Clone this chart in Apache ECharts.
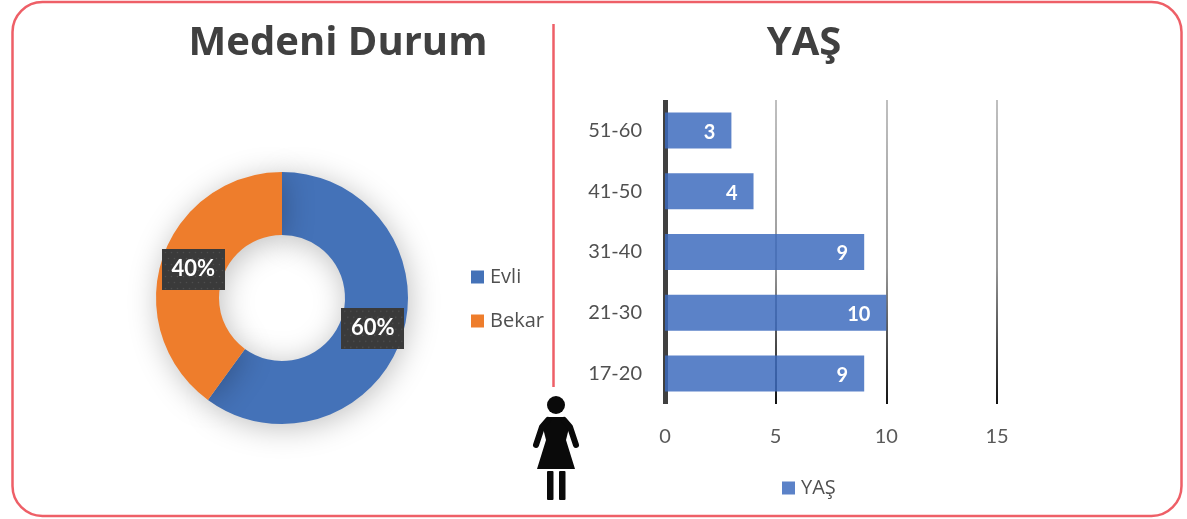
<!DOCTYPE html>
<html>
<head>
<meta charset="utf-8">
<style>html,body{margin:0;padding:0;background:#fff}#c{width:1187px;height:519px}</style>
<script src="https://cdn.jsdelivr.net/npm/echarts@6/dist/echarts.min.js"></script>
</head>
<body>
<div id="c"></div>
<script>
const pieNames = ['Evli', 'Bekar'];
const pieValues = [60, 40];
const pieColors = ['#4472b8', '#ee7d2c'];
const ageGroups = ['17-20', '21-30', '31-40', '41-50', '51-60'];
const ageCounts = [9, 10, 9, 4, 3];

const chart = echarts.init(document.getElementById('c'), null, {renderer: 'canvas'});

function texture() {
  const cv = document.createElement('canvas');
  cv.width = 63; cv.height = 41;
  const g = cv.getContext('2d');
  g.fillStyle = '#3a3a3a';
  g.fillRect(0, 0, 63, 41);
  g.fillStyle = '#555';
  for (let y = 3, r = 0; y < 41; y += 6, r++) {
    for (let x = r % 2 ? 6 : 3; x < 63; x += 6) g.fillRect(x, y, 1.2, 1.2);
  }
  return cv;
}
const tex = texture();
const labelFont = 'Lato, "Open Sans", sans-serif';
const legendFont = '"Open Sans", sans-serif';
const gridGrad = new echarts.graphic.LinearGradient(0, 0, 0, 1, [
  {offset: 0, color: '#c0c0c0'},
  {offset: 0.55, color: '#999'},
  {offset: 0.8, color: '#4a4a4a'},
  {offset: 1, color: '#111'}
]);
const labelShift = [[-2, 0], [4, 1.5]];

chart.setOption({
  animation: false,
  backgroundColor: '#fff',
  title: [
    {text: 'Medeni Durum', left: 338, top: 44, padding: 0, textAlign: 'center', textVerticalAlign: 'middle',
      textStyle: {fontFamily: '"Open Sans", sans-serif', fontSize: 40, fontWeight: 700, color: '#404040'}},
    {text: 'YAŞ', left: 804, top: 44, padding: 0, textAlign: 'center', textVerticalAlign: 'middle',
      textStyle: {fontFamily: '"Open Sans", sans-serif', fontSize: 40, fontWeight: 700, color: '#404040'}}
  ],
  legend: [
    {data: pieNames, orient: 'vertical', left: 471, top: 267, padding: 0, itemWidth: 13, itemHeight: 13, itemGap: 24,
      icon: 'rect', textStyle: {fontFamily: legendFont, fontSize: 20, color: '#505050', padding: [0, 0, 0, 1]}},
    {data: ['YAŞ'], left: 782, top: 478, padding: 0, itemWidth: 13, itemHeight: 13, icon: 'rect',
      textStyle: {fontFamily: legendFont, fontSize: 20, color: '#505050', padding: [0, 0, 0, 1]}}
  ],
  grid: {left: 665, top: 100, width: 332, height: 304, containLabel: false},
  xAxis: {
    type: 'value', min: 0, max: 15, interval: 5,
    axisLine: {show: false}, axisTick: {show: false},
    axisLabel: {margin: 23, fontFamily: labelFont, fontSize: 20, color: '#595959'},
    splitLine: {show: true, lineStyle: {color: gridGrad, width: 2}}
  },
  yAxis: {
    type: 'category', data: ageGroups,
    axisTick: {show: false},
    axisLine: {show: true, lineStyle: {color: '#404040', width: 5, cap: 'butt'}},
    axisLabel: {margin: 23, fontFamily: labelFont, fontSize: 20, color: '#505050'}
  },
  series: [
    {
      type: 'pie', name: 'Medeni Durum', center: [282, 298], radius: [63, 126], startAngle: 90, clockwise: true,
      data: pieNames.map((n, i) => ({name: n, value: pieValues[i], itemStyle: {color: pieColors[i]}})),
      itemStyle: {shadowBlur: 30, shadowColor: 'rgba(0,0,0,0.25)', shadowOffsetX: 2, shadowOffsetY: 4},
      label: {
        position: 'inside', formatter: '{d}%', color: '#fff', fontFamily: labelFont, fontSize: 22, fontWeight: 700,
        width: 63, height: 41, lineHeight: 41, align: 'center', verticalAlign: 'middle',
        backgroundColor: {image: tex}, shadowBlur: 6, shadowColor: 'rgba(0,0,0,0.45)', shadowOffsetX: 2, shadowOffsetY: 2
      },
      labelLayout: p => ({dx: labelShift[p.dataIndex][0], dy: labelShift[p.dataIndex][1]}),
      labelLine: {show: false}
    },
    {
      type: 'bar', name: 'YAŞ', data: ageCounts, barWidth: 36,
      itemStyle: {color: 'rgba(60,106,190,0.84)'},
      label: {show: true, position: 'insideRight', distance: 16, offset: [0, 2], color: '#fff', fontFamily: labelFont, fontSize: 20, fontWeight: 700}
    }
  ],
  graphic: [
    {type: 'rect', z: -1, silent: true, shape: {x: 12.5, y: 2, width: 1169, height: 514, r: 30},
      style: {fill: 'none', stroke: '#ee5f67', lineWidth: 2.5}},
    {type: 'line', silent: true, shape: {x1: 553.5, y1: 24, x2: 553.5, y2: 387}, style: {stroke: '#ee5f67', lineWidth: 2.5}},
    {type: 'circle', silent: true, shape: {cx: 556, cy: 405, r: 9}, style: {fill: '#0a0a0a'}},
    {type: 'polygon', silent: true, shape: {points: [[549,417],[563,417],[570,424],[566,440],[575,469],[537,469],[546,440],[542,424]]}, style: {fill: '#0a0a0a'}},
    {type: 'polyline', silent: true, shape: {points: [[548,420],[542,427],[536,445]]}, style: {stroke: '#0a0a0a', lineWidth: 6, fill: 'none', lineCap: 'round', lineJoin: 'round'}},
    {type: 'polyline', silent: true, shape: {points: [[564,420],[570,427],[576,445]]}, style: {stroke: '#0a0a0a', lineWidth: 6, fill: 'none', lineCap: 'round', lineJoin: 'round'}},
    {type: 'rect', silent: true, shape: {x: 547, y: 471, width: 6.5, height: 29, r: 1}, style: {fill: '#0a0a0a'}},
    {type: 'rect', silent: true, shape: {x: 559, y: 471, width: 6.5, height: 29, r: 1}, style: {fill: '#0a0a0a'}}
  ]
});
</script>
</body>
</html>
